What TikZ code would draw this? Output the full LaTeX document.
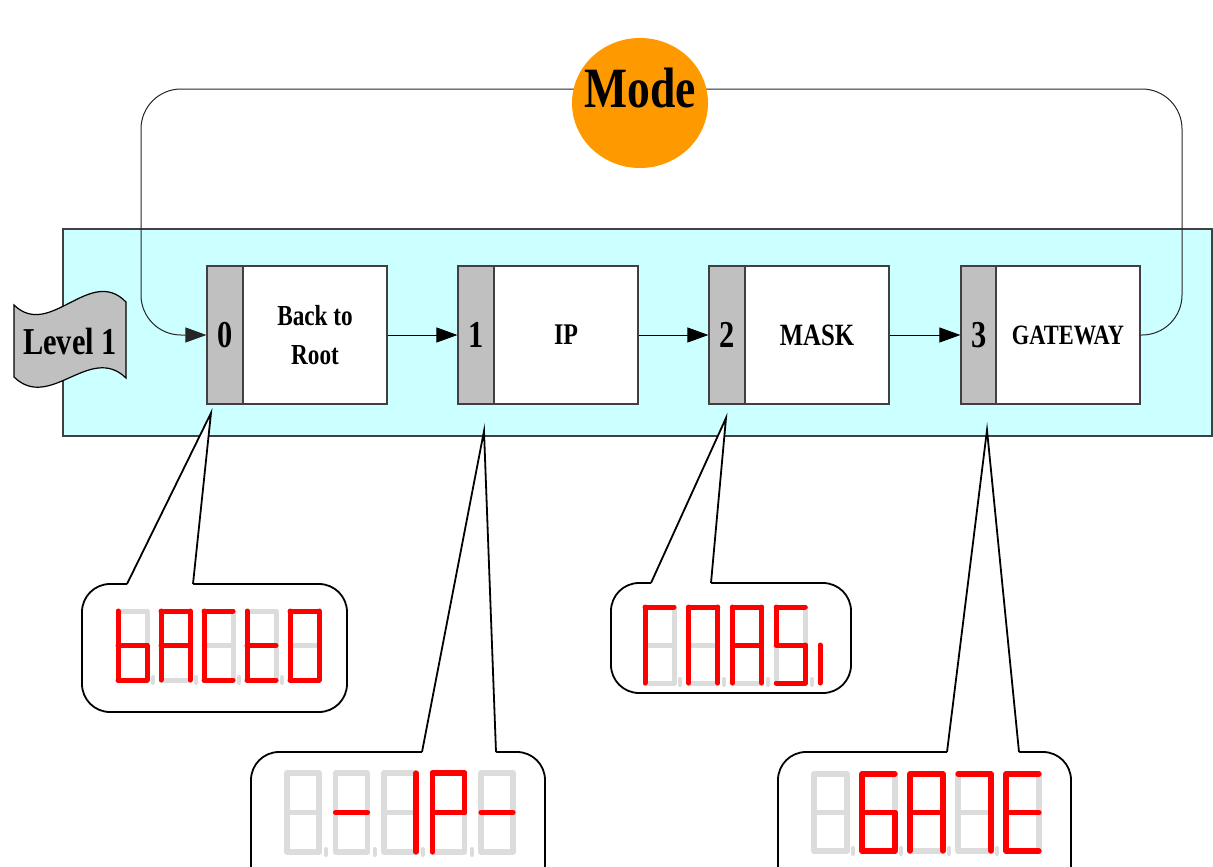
\documentclass[tikz,border=0pt]{standalone}
\usepackage{fontspec}
\setmainfont{Liberation Serif}[FakeStretch=0.8]
\usetikzlibrary{arrows.meta,shapes.geometric}
\definecolor{panelcyan}{HTML}{CCFFFF}
\definecolor{stripgray}{HTML}{C0C0C0}
\definecolor{modeorange}{HTML}{FF9900}
\definecolor{segoffc}{HTML}{DCDCDC}
\definecolor{linegray}{HTML}{404040}
\def\segw{5pt}
\tikzset{
  panel/.style={fill=panelcyan, draw=linegray, line width=1.2pt},
  stripbox/.style={draw=linegray, line width=1.2pt, fill=stripgray, minimum width=36pt,
    minimum height=138pt, inner sep=0pt, font=\bfseries\fontsize{38}{40}\selectfont},
  bodybox/.style={draw=linegray, line width=1.2pt, fill=white, minimum width=144pt,
    minimum height=138pt, inner sep=0pt, align=center},
  flow/.style={draw=black, line width=1pt, -{Triangle[length=21pt,width=15pt]}},
  loopline/.style={draw=black!85, line width=1pt, -{Triangle[length=21pt,width=15pt]}},
  tape/.style={fill=stripgray, draw=black, line width=1.2pt},
  callbox/.style={draw=black, line width=1.8pt, fill=white, rounded corners=28pt},
  pointer/.style={draw=black, line width=1.8pt, line join=miter},
  segon/.style={draw=red, line width=\segw, line cap=round},
  segoff/.style={draw=segoffc, line width=\segw, line cap=round, line join=round},
  dpoint/.style={draw=segoffc, line width=4pt, line cap=round},
}
\expandafter\def\csname segcmda\endcsname{\draw[segon] (p1)--(p2);}
\expandafter\def\csname segcmdb\endcsname{\draw[segon] (p2)--(p4);}
\expandafter\def\csname segcmdc\endcsname{\draw[segon] (p4)--(p6);}
\expandafter\def\csname segcmdd\endcsname{\draw[segon] (p5)--(p6);}
\expandafter\def\csname segcmde\endcsname{\draw[segon] (p3)--(p5);}
\expandafter\def\csname segcmdf\endcsname{\draw[segon] (p1)--(p3);}
\expandafter\def\csname segcmdg\endcsname{\draw[segon] (p3)--(p4);}
\expandafter\def\csname segcmdnone\endcsname{}
\newcommand\segdigit[5]{%
  \begin{scope}[shift={(#1,#2)}]
    \coordinate (p1) at (0,0);
    \coordinate (p2) at (#3,0);
    \coordinate (p3) at (0,#4/2);
    \coordinate (p4) at (#3,#4/2);
    \coordinate (p5) at (0,#4);
    \coordinate (p6) at (#3,#4);
    \draw[segoff] (p1)--(p2)--(p6)--(p5)--cycle (p3)--(p4);
    \foreach \s in {#5} {\csname segcmd\s\endcsname}
  \end{scope}}
\newcommand\segdp[2]{\draw[dpoint] (#1,#2-3) -- (#1,#2+3);}
\begin{document}
\begin{tikzpicture}[x=1pt,y=-1pt]
\useasboundingbox (0,0) rectangle (1213,867);
\begin{scope}
\clip (0,0) rectangle (1213,867);

% panel
\draw[panel] (63,229) rectangle (1212,436);

% blocks
\node[stripbox] (s0) at (225,335) {0};
\node[bodybox, font=\bfseries\fontsize{29}{39}\selectfont] (b0) at (315,335) {Back to\\Root};
\node[stripbox] (s1) at (476,335) {1};
\node[bodybox, font=\bfseries\fontsize{30}{36}\selectfont] (b1) at (566,335) {IP};
\node[stripbox] (s2) at (727,335) {2};
\node[bodybox, font=\bfseries\fontsize{31}{36}\selectfont] (b2) at (817,335) {MASK};
\node[stripbox] (s3) at (979,335) {3};
\node[bodybox, font=\bfseries\fontsize{28}{32}\selectfont] (b3) at (1068,335) {GATEWAY};

\draw[flow] (b0.east) -- (s1.west);
\draw[flow] (b1.east) -- (s2.west);
\draw[flow] (b2.east) -- (s3.west);

% feedback loop
\coordinate (lr) at (1182,335);
\coordinate (tr) at (1182,89);
\coordinate (tl) at (141,89);
\coordinate (ll) at (141,335);
\draw[loopline, rounded corners=40pt] (b3.east) -- (lr) -- (tr) -- (tl) -- (ll) -- (s0.west);

% mode
\node[ellipse, fill=modeorange, minimum width=136pt, minimum height=130pt, inner sep=0pt] (mode) at (640,103) {};
\node[font=\bfseries\fontsize{57}{60}\selectfont, inner sep=0pt] (modetxt) at (640,88) {Mode};

% level tape
\draw[tape] (14,305) .. controls (50,340) and (90,265) .. (126,302)
  -- (126,378) .. controls (90,343) and (50,412) .. (14,377) -- cycle;
\node[font=\bfseries\fontsize{38}{40}\selectfont, inner sep=0pt] (lvl) at (70,341) {Level 1};

% callout 0
\coordinate (t0) at (211,413);
\draw[callbox] (82,584) rectangle (347,712);
\fill[white] (127,586.5) -- (127,584) -- (t0) -- (193,584) -- (193,586.5) -- cycle;
\draw[pointer] (127,584) -- (t0) -- (193,584);
\def\segw{5pt}
\segdigit{118}{611}{29}{69}{c,d,e,f,g}
\segdigit{161}{611}{29}{69}{a,b,c,e,f,g}
\segdigit{204}{611}{29}{69}{a,d,e,f}
\segdigit{247}{611}{29}{69}{d,e,f,g}
\segdigit{290}{611}{29}{69}{a,b,c,d,e,f}
\segdp{153}{680}\segdp{196}{680}\segdp{239}{680}\segdp{282}{680}

% callout 1
\coordinate (t1) at (484,431);
\draw[callbox] (251,752) rectangle (545,905);
\fill[white] (422,754.5) -- (422,752) -- (t1) -- (496,752) -- (496,754.5) -- cycle;
\draw[pointer] (422,752) -- (t1) -- (496,752);
\def\segw{5.2pt}
\segdigit{287}{773}{32}{79}{none}
\segdigit{335.5}{773}{32}{79}{g}
\segdigit{384}{773}{32}{79}{b,c}
\segdigit{432.5}{773}{32}{79}{a,b,e,f,g}
\segdigit{481}{773}{32}{79}{g}
\segdp{326}{852}\segdp{374.5}{852}\segdp{423}{852}\segdp{471.5}{852}

% callout 2
\coordinate (t2) at (726,418);
\draw[callbox] (611,583) rectangle (851,693);
\fill[white] (651,585.5) -- (651,583) -- (t2) -- (711,583) -- (711,585.5) -- cycle;
\draw[pointer] (651,583) -- (t2) -- (711,583);
\def\segw{5pt}
\segdigit{645}{607}{29}{76}{a,e,f}
\segdigit{688.75}{607}{29}{76}{a,b,c,e,f}
\segdigit{732.5}{607}{29}{76}{a,b,c,e,f,g}
\segdigit{776.25}{607}{29}{76}{a,c,d,f,g}
\draw[segon] (820,645) -- (820,683);
\segdp{680}{682}\segdp{724}{682}\segdp{768}{682}\segdp{812}{682}

% callout 3
\coordinate (t3) at (987,430);
\draw[callbox] (778,752) rectangle (1071,905);
\fill[white] (947,754.5) -- (947,752) -- (t3) -- (1019,752) -- (1019,754.5) -- cycle;
\draw[pointer] (947,752) -- (t3) -- (1019,752);
\def\segw{5.2pt}
\segdigit{814}{774}{33}{77}{none}
\segdigit{862}{774}{33}{77}{a,c,d,e,f,g}
\segdigit{910}{774}{33}{77}{a,b,c,e,f,g}
\segdigit{958}{774}{33}{77}{a,b,c}
\segdigit{1006}{774}{33}{77}{a,d,e,f,g}
\segdp{853}{851}\segdp{901}{851}\segdp{949}{851}\segdp{997}{851}
\end{scope}
\end{tikzpicture}
\end{document}
